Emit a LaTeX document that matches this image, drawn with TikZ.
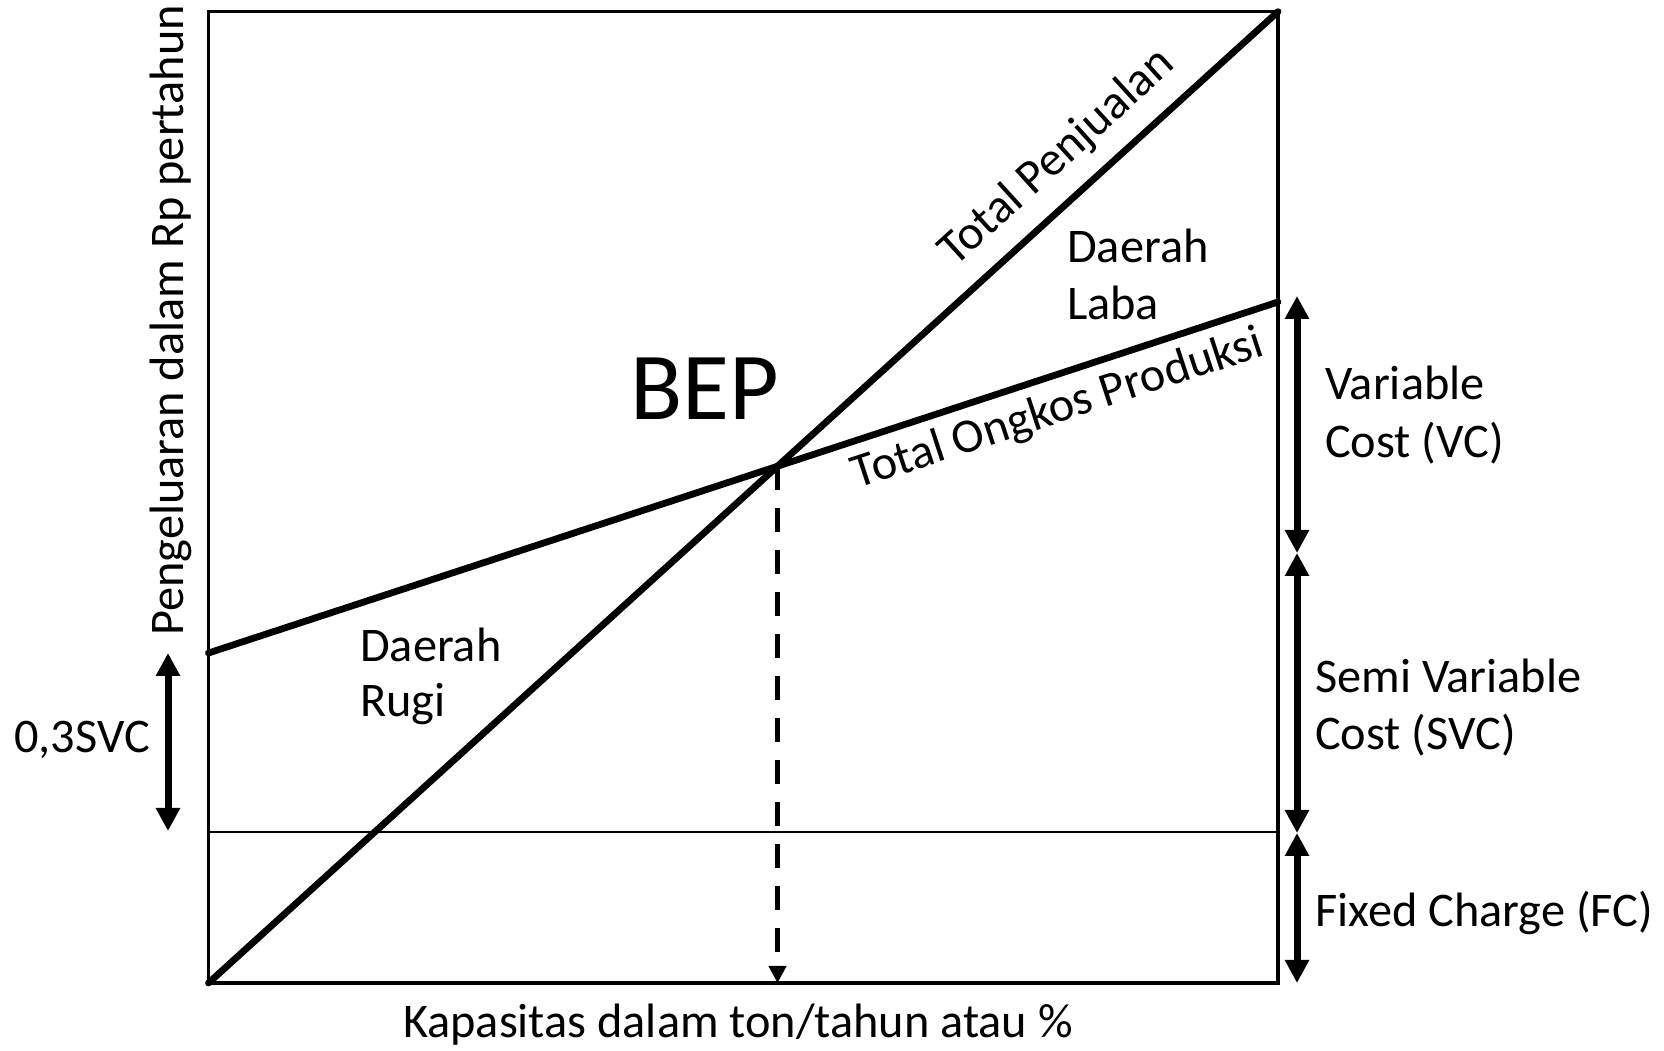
\documentclass[tikz,border=0pt]{standalone}
\usepackage{fontspec}
\setmainfont{Carlito}
\usetikzlibrary{arrows.meta,calc}
\begin{document}
\begin{tikzpicture}[x=1pt,y=1pt,
  frame/.style={line width=3.2pt, line join=miter},
  thinline/.style={line width=2.6pt},
  curve/.style={line width=6.8pt, line cap=round},
  dimarrow/.style={line width=7pt, {Triangle[width=23pt,length=23pt]}-{Triangle[width=23pt,length=23pt]}},
  dasharrow/.style={line width=5pt, dash pattern=on 24pt off 18pt, -{Triangle[width=17pt,length=17pt]}},
  lbl/.style={inner sep=0pt, font=\fontsize{48.3}{57}\selectfont},
]
\useasboundingbox (0,0) rectangle (1664,1051);
% frame corners
\coordinate (O)  at (208.5,68);
\coordinate (TR) at (1278,1039.3);
\coordinate (TL) at (208.5,1039.3);
\coordinate (BR) at (1278,68);
% cost line ends
\coordinate (C0) at (208.5,398);
\coordinate (C1) at (1278,749);
% fixed charge line ends
\coordinate (F0) at (208.5,219);
\coordinate (F1) at (1278,219);
% break-even point
\coordinate (BEP) at (intersection of O--TR and C0--C1);
\coordinate (BEPx) at ($(BEP|-O)$);
% right-hand dimension arrow points
\coordinate (R0) at (1297,755);
\coordinate (R1) at (1297,498);
\coordinate (R2) at (1297,218);
\coordinate (R3) at (1297,68);
% left dimension arrow points
\coordinate (L0) at (168,398);
\coordinate (L1) at (168,220);

\draw[frame] (TL) rectangle (BR);
\draw[thinline] (F0) -- (F1);
\draw[curve] (O) -- (TR);
\draw[curve] (C0) -- (C1);
\draw[dasharrow] (BEP) -- (BEPx);

\draw[dimarrow] (R0) -- (R1);
\draw[dimarrow] (R1) -- (R2);
\draw[dimarrow] (R2) -- (R3);
\draw[dimarrow] (L0) -- (L1);

% line labels
\node[lbl, rotate=42.2, anchor=base] (tp) at (1066,884) {Total Penjualan};
\node[lbl, rotate=18.16, anchor=base] (to) at (1062,629) {Total Ongkos Produksi};

% region labels
\node[lbl, anchor=base west] (dl1) at (1067,788) {Daerah};
\node[lbl, anchor=base west] (dl2) at (1067,731) {Laba};
\node[lbl, anchor=base west] (dr1) at (360,389) {Daerah};
\node[lbl, anchor=base west] (dr2) at (360,334) {Rugi};
\node[inner sep=0pt, font=\fontsize{96}{112}\selectfont, anchor=base west] (bep) at (630,631) {BEP};

% cost labels
\node[lbl, anchor=base west] (vc1) at (1325,651) {Variable};
\node[lbl, anchor=base west] (vc2) at (1325,593) {Cost (VC)};
\node[lbl, anchor=base west] (svc1) at (1315,358) {Semi Variable};
\node[lbl, anchor=base west] (svc2) at (1315,301) {Cost (SVC)};
\node[lbl, anchor=base west] (fc) at (1315,124) {Fixed Charge (FC)};
\node[lbl, anchor=base west] (svc3) at (14,298) {0,3SVC};

% axis labels
\node[lbl, anchor=base] (xl) at (738,13) {Kapasitas dalam ton/tahun atau \%};
\node[lbl, anchor=base, rotate=90] (yl) at (183,730.5) {Pengeluaran dalam Rp pertahun};
\end{tikzpicture}
\end{document}
